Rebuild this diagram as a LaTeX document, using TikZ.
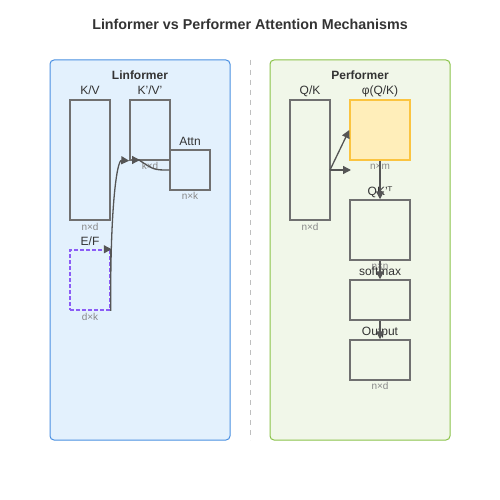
\documentclass[tikz,border=0pt]{standalone}
\usepackage{fontspec}
\setmainfont{Liberation Sans}
\newfontfamily\dv{DejaVu Sans}
\usetikzlibrary{arrows.meta}
\definecolor{lfill}{HTML}{E3F1FD}
\definecolor{lstroke}{HTML}{4A90E2}
\definecolor{rfill}{HTML}{F1F7E9}
\definecolor{rstroke}{HTML}{8BC34A}
\definecolor{boxc}{HTML}{707070}
\definecolor{arrc}{HTML}{555555}
\definecolor{txt}{HTML}{333333}
\definecolor{dimc}{HTML}{888888}
\definecolor{phifill}{HTML}{FFEEBA}
\definecolor{phistroke}{HTML}{FBC440}
\definecolor{efc}{HTML}{8B5CF6}
\begin{document}
\begin{tikzpicture}[x=1pt,y=-1pt,
  panel/.style={draw, line width=1pt, rounded corners=4pt},
  box/.style={draw=boxc, line width=1.5pt, inner sep=0pt, rectangle},
  lbl/.style={anchor=base, font=\fontsize{12}{12}\selectfont, text=txt, inner sep=0pt},
  dim/.style={anchor=base, font=\fontsize{10}{10}\selectfont, text=dimc, inner sep=0pt},
  ptitle/.style={anchor=base, font=\fontsize{12}{12}\selectfont\bfseries, text=txt, inner sep=0pt},
  conn/.style={draw=arrc, line width=1.3pt, -{Triangle[length=8pt,width=8pt]}},
  startconn/.style={draw=arrc, line width=1.3pt, {Triangle[length=8pt,width=8pt]}-}
]
\useasboundingbox (0,0) rectangle (500,500);
\fill[white] (0,0) rectangle (500,500);

\node[anchor=base, font=\fontsize{14.3}{14.3}\selectfont\bfseries, text=txt, inner sep=0pt] (title) at (250,30) {Linformer vs Performer Attention Mechanisms};

% panels
\node[panel, fill=lfill, draw=lstroke, minimum width=180pt, minimum height=380pt, inner sep=0pt] (lpanel) at (140,250) {};
\node[panel, fill=rfill, draw=rstroke, minimum width=180pt, minimum height=380pt, inner sep=0pt] (rpanel) at (360,250) {};
\coordinate (divtop) at (250,60);
\coordinate (divbot) at (250,440);
\draw[draw=black!25, line width=1pt, dash pattern=on 5pt off 5pt] (divtop) -- (divbot);

\node[ptitle] (ltitle) at (140,80) {Linformer};
\node[ptitle] (rtitle) at (360,80) {Performer};

% Linformer boxes
\node[box, minimum width=40pt, minimum height=120pt] (kv) at (90,160) {};
\node[box, minimum width=40pt, minimum height=60pt] (kvp) at (150,130) {};
\node[box, minimum width=40pt, minimum height=40pt] (attn) at (190,170) {};
\node[box, draw=efc, dashed, dash pattern=on 4pt off 2pt, minimum width=40pt, minimum height=60pt] (ef) at (90,280) {};

\node[lbl] (kvl) at (90,95) {K/V};
\node[dim] (kvd) at (90,230) {n×d};
\node[lbl] (kvpl) at (150,95) {K'/V'};
\node[dim] (kvpd) at (150,169) {k×d};
\node[lbl] (attnl) at (190,145) {Attn};
\node[dim] (attnd) at (190,199) {n×k};
\node[lbl] (efl) at (90,245) {E/F};
\node[dim] (efd) at (90,320) {d×k};

% Linformer connectors
\draw[conn] (ef.south east) -- (ef.north east) -- ++(1,0);
\draw[conn] (ef.south east) .. controls (110,210) and (116.7,160) .. (kvp.south west);
\coordinate (kvpin) at (140,160);
\draw[startconn] (kvpin) -- ++(-1,0) .. controls (154,170) .. (attn.west);

% Performer boxes
\node[box, minimum width=40pt, minimum height=120pt] (qk) at (310,160) {};
\node[box, fill=phifill, draw=phistroke, minimum width=60pt, minimum height=60pt] (phi) at (380,130) {};
\node[box, minimum width=60pt, minimum height=60pt] (qkt) at (380,230) {};
\node[box, minimum width=60pt, minimum height=40pt] (sm) at (380,300) {};
\node[box, minimum width=60pt, minimum height=40pt] (out) at (380,360) {};

\node[lbl] (qkl) at (310,95) {Q/K};
\node[dim] (qkd) at (310,230) {n×d};
\node[lbl] (phil) at (380,95) {φ(Q/K)};
\node[dim] (phid) at (380,169) {n×m};
\node[lbl] (qktl) at (380,195) {QK'{\dv\fontsize{12}{12}\selectfont ᵀ}};
\node[dim] (qktd) at (380,269) {n×n};
\node[lbl] (sml) at (380,275) {softmax};
\node[lbl] (outl) at (380,335) {Output};
\node[dim] (outd) at (380,389) {n×d};

% Performer connectors
\coordinate (qkout) at (330,170);
\coordinate (freeend) at (351,170);
\draw[conn] (qkout) -- (phi.west);
\draw[conn] (qkout) -- (freeend);
\draw[conn] (phi.south) -- (qkt.north);
\draw[conn] (qkt.south) -- (sm.north);
\draw[conn] (sm.south) -- (out.north);
\end{tikzpicture}
\end{document}
